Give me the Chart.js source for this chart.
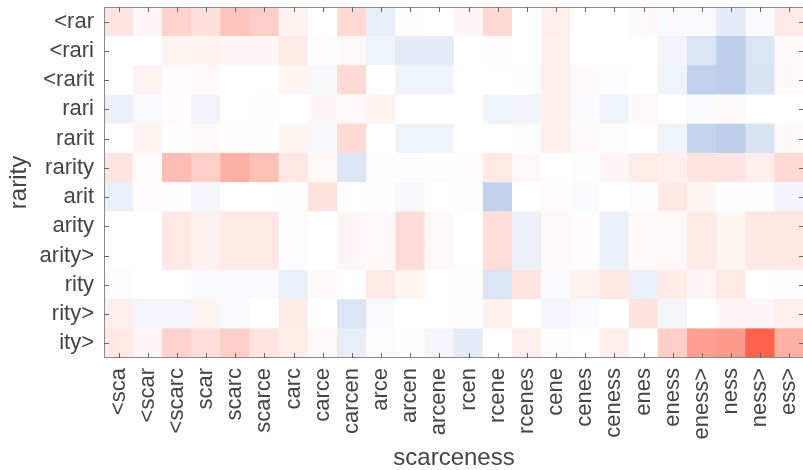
<!DOCTYPE html>
<html>
<head>
<meta charset="utf-8">
<script src="https://cdn.jsdelivr.net/npm/chart.js@4/dist/chart.umd.min.js"></script>
<style>
  html, body { margin: 0; padding: 0; background: #fff; overflow: hidden; }
  #wrap { width: 806px; height: 470px; }
</style>
</head>
<body>
<div id="wrap"><canvas id="myChart"></canvas></div>
<script>
// columns (x) and rows (y, top to bottom)
var colLabels = ["<sca", "<scar", "<scarc", "scar", "scarc", "scarce", "carc", "carce",
    "carcen", "arce", "arcen", "arcene", "rcen", "rcene", "rcenes", "cene",
    "cenes", "ceness", "enes", "eness", "eness>", "ness", "ness>", "ess>"];
var rowLabels = ["<rar", "<rari", "<rarit", "rari", "rarit", "rarity",
    "arit", "arity", "arity>", "rity", "rity>", "ity>"];

// cell values, one array per row (same order as rowLabels)
var values = [
    [0.15, 0.05, 0.25, 0.18, 0.33, 0.28, 0.07, 0, 0.22, -0.10, 0.01, 0, 0.05, 0.22, 0, 0.10, 0, 0, 0.03, -0.03, -0.03, -0.11, -0.03, 0.13],
    [0, 0, 0.06, 0.07, 0.05, 0.05, 0.12, -0.02, 0.04, -0.07, -0.11, -0.11, 0, 0.01, 0, 0.09, 0, 0, 0, -0.06, -0.16, -0.28, -0.16, 0.03],
    [0, 0.07, 0.02, 0.04, 0, 0, 0.06, -0.04, 0.22, 0, -0.07, -0.07, 0, 0, -0.01, 0.09, 0.03, -0.02, 0, -0.07, -0.27, -0.28, -0.17, 0.03],
    [-0.08, -0.03, 0.02, -0.06, 0, 0.01, 0, 0.05, 0.04, 0.07, 0, 0, 0, -0.07, -0.06, 0.09, -0.03, -0.07, 0.03, 0, -0.03, 0.03, 0, 0],
    [0, 0.06, 0.01, 0.04, 0.01, 0.01, 0.06, -0.04, 0.21, 0, -0.07, -0.07, 0, 0, -0.01, 0.09, 0.03, -0.01, 0, -0.07, -0.25, -0.28, -0.17, 0.03],
    [0.15, 0.02, 0.38, 0.28, 0.45, 0.36, 0.14, 0.04, -0.15, -0.02, -0.02, -0.01, 0.02, 0.13, 0.04, 0, -0.01, 0.05, 0.11, 0.10, 0.15, 0.15, 0.10, 0.22],
    [-0.09, 0.02, 0.01, -0.05, 0, 0, -0.02, 0.16, 0, 0.01, -0.04, 0, -0.01, -0.26, 0, 0.02, -0.03, 0, -0.02, 0.13, 0.06, -0.02, -0.02, -0.06],
    [0, 0, 0.13, 0.08, 0.13, 0.13, -0.02, 0, 0.05, 0.03, 0.20, 0.04, 0, 0.19, -0.08, 0.04, 0.02, -0.08, 0.04, 0.04, 0.12, 0.06, 0.14, 0.14],
    [0, 0, 0.13, 0.08, 0.13, 0.13, -0.02, 0, 0.05, 0.03, 0.20, 0.04, 0, 0.19, -0.08, 0.04, 0.02, -0.08, 0.04, 0.04, 0.12, 0.06, 0.14, 0.14],
    [-0.02, 0, 0, -0.03, -0.03, -0.03, -0.09, 0.03, 0, 0.12, 0.06, 0, 0.01, -0.16, 0.15, -0.03, 0.07, 0.14, -0.09, 0.12, 0.05, 0.13, 0, -0.02],
    [0.10, -0.05, -0.05, 0.06, -0.03, 0, 0.12, 0, -0.16, -0.03, 0, 0, 0.01, 0.08, 0, -0.05, -0.03, 0, 0.16, -0.05, 0, 0.05, 0.05, 0.10],
    [0.13, 0.05, 0.25, 0.19, 0.28, 0.15, 0.11, 0.04, -0.10, -0.02, 0.01, -0.05, -0.11, 0, 0.10, -0.02, 0, 0.10, 0, 0.28, 0.55, 0.57, 0.90, 0.45]
];

// blue - white - red colormap
function heatColor(v) {
    var r, g, b;
    if (v >= 0) {
        r = 255; g = 255 - 175 * v; b = 255 - 200 * v;
    } else {
        var a = -v;
        r = 255 - 232 * a; g = 255 - 171 * a; b = 255 - 71 * a;
    }
    return "rgb(" + Math.round(r) + "," + Math.round(g) + "," + Math.round(b) + ")";
}

// one stacked dataset per row, bottom row first
var datasets = [];
for (var i = rowLabels.length - 1; i >= 0; i--) {
    datasets.push({
        label: rowLabels[i],
        data: colLabels.map(function () { return 1; }),
        backgroundColor: values[i].map(heatColor),
        borderWidth: 0,
        barPercentage: 1,
        categoryPercentage: 1
    });
}

// MATLAB style box with inward ticks
var boxPlugin = {
    id: "box",
    afterDraw: function (chart) {
        var ctx = chart.ctx;
        var a = chart.chartArea;
        var xs = chart.scales.x, ys = chart.scales.y;
        ctx.save();
        ctx.strokeStyle = "#8a8a8a";
        ctx.lineWidth = 1;
        ctx.strokeRect(a.left + 0.5, a.top + 0.5, a.right - a.left - 1, a.bottom - a.top - 1);
        ctx.strokeStyle = "#666";
        ctx.beginPath();
        for (var i = 0; i < xs.ticks.length; i++) {
            var x = Math.round(xs.getPixelForTick(i)) + 0.5;
            ctx.moveTo(x, a.bottom); ctx.lineTo(x, a.bottom - 5);
            ctx.moveTo(x, a.top); ctx.lineTo(x, a.top + 5);
        }
        for (var j = 0; j < ys.ticks.length; j++) {
            var y = Math.round(ys.getPixelForTick(j)) + 0.5;
            ctx.moveTo(a.left, y); ctx.lineTo(a.left + 5, y);
            ctx.moveTo(a.right, y); ctx.lineTo(a.right - 5, y);
        }
        ctx.stroke();
        ctx.restore();
    }
};

Chart.defaults.font.family = "'Liberation Sans', Arial, sans-serif";
Chart.defaults.color = "#444";

var ctx = document.getElementById("myChart").getContext("2d");
var myChart = new Chart(ctx, {
    type: "bar",
    data: { labels: colLabels, datasets: datasets },
    plugins: [boxPlugin],
    options: {
        responsive: true,
        maintainAspectRatio: false,
        animation: false,
        layout: { padding: { top: 7, right: 2, left: 0, bottom: 0 } },
        plugins: { legend: { display: false }, tooltip: { enabled: false } },
        scales: {
            x: {
                stacked: true,
                grid: { display: false, drawTicks: false },
                border: { display: false },
                ticks: { autoSkip: false, minRotation: 90, maxRotation: 90, padding: 10, font: { size: 22 } },
                title: { display: true, text: "scarceness", font: { size: 24, lineHeight: 1 }, padding: { top: 0, bottom: 0 } },
                afterFit: function (scale) {
                    scale.height = 112;
                    scale.paddingLeft = 0;
                    scale.paddingRight = 0;
                }
            },
            y: {
                stacked: true,
                min: 0,
                max: rowLabels.length,
                grid: { display: false, drawTicks: false },
                border: { display: false },
                afterBuildTicks: function (scale) {
                    scale.ticks = rowLabels.map(function (_, k) { return { value: k + 0.5 }; });
                },
                ticks: {
                    padding: 10,
                    font: { size: 22 },
                    callback: function (v) { return rowLabels[rowLabels.length - 1 - Math.floor(v)]; }
                },
                title: { display: true, text: "rarity", font: { size: 24, lineHeight: 1 }, padding: { top: 7, bottom: 0 } },
                afterFit: function (scale) {
                    scale.width = 104;
                    scale.paddingTop = 0;
                    scale.paddingBottom = 0;
                }
            }
        }
    }
});
</script>
</body>
</html>
